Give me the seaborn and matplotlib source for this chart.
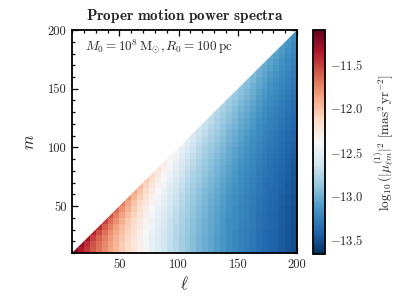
import numpy as np
import pandas as pd
import matplotlib
matplotlib.use('Agg')
import matplotlib.pyplot as plt
from matplotlib.patches import Polygon
import seaborn as sns

# Bins of width 5 covering 10..200 in both ell and m
ell_centres = [12.5 + 5 * k for k in range(38)]
m_centres = ell_centres

# log10 power, one list per ell column, from the lowest m bin up to m=ell
power_cols = [
    [-11.20],
    [-11.36, -11.26],
    [-11.48, -11.44, -11.32],
    [-11.59, -11.57, -11.50, -11.39],
    [-11.69, -11.67, -11.63, -11.55, -11.45],
    [-11.78, -11.77, -11.74, -11.68, -11.61, -11.51],
    [-11.87, -11.86, -11.84, -11.80, -11.74, -11.67, -11.58],
    [-11.96, -11.95, -11.94, -11.90, -11.86, -11.80, -11.73, -11.65],
    [-12.05, -12.05, -12.03, -12.00, -11.97, -11.92, -11.86, -11.80, -11.72],
    [-12.14, -12.14, -12.12, -12.10, -12.07, -12.04, -11.99, -11.93, -11.87, -11.80],
    [-12.23, -12.23, -12.22, -12.20, -12.17, -12.14, -12.10, -12.06, -12.01, -11.95, -11.88],
    [-12.32, -12.32, -12.31, -12.29, -12.27, -12.25, -12.21, -12.17, -12.13, -12.08, -12.02, -11.96],
    [-12.41, -12.41, -12.40, -12.39, -12.37, -12.35, -12.32, -12.29, -12.25, -12.21, -12.16, -12.11,
     -12.05],
    [-12.49, -12.49, -12.48, -12.47, -12.46, -12.44, -12.41, -12.39, -12.35, -12.32, -12.28, -12.23,
     -12.18, -12.13],
    [-12.56, -12.56, -12.55, -12.54, -12.53, -12.51, -12.49, -12.47, -12.44, -12.41, -12.38, -12.34,
     -12.30, -12.25, -12.20],
    [-12.63, -12.63, -12.62, -12.62, -12.60, -12.59, -12.57, -12.55, -12.53, -12.50, -12.47, -12.44,
     -12.40, -12.36, -12.32, -12.27],
    [-12.70, -12.70, -12.69, -12.69, -12.68, -12.67, -12.65, -12.63, -12.61, -12.59, -12.56, -12.53,
     -12.50, -12.46, -12.42, -12.38, -12.34],
    [-12.76, -12.76, -12.76, -12.75, -12.74, -12.73, -12.72, -12.70, -12.68, -12.66, -12.64, -12.61,
     -12.58, -12.55, -12.52, -12.48, -12.44, -12.40],
    [-12.82, -12.82, -12.82, -12.81, -12.80, -12.79, -12.78, -12.77, -12.75, -12.73, -12.71, -12.69,
     -12.66, -12.63, -12.60, -12.57, -12.54, -12.50, -12.46],
    [-12.88, -12.88, -12.88, -12.87, -12.86, -12.86, -12.84, -12.83, -12.82, -12.80, -12.78, -12.76,
     -12.74, -12.71, -12.69, -12.66, -12.63, -12.59, -12.56, -12.52],
    [-12.93, -12.93, -12.93, -12.92, -12.92, -12.91, -12.90, -12.89, -12.87, -12.86, -12.84, -12.82,
     -12.80, -12.78, -12.75, -12.73, -12.70, -12.67, -12.64, -12.61, -12.57],
    [-12.98, -12.98, -12.98, -12.97, -12.97, -12.96, -12.95, -12.94, -12.93, -12.91, -12.90, -12.88,
     -12.86, -12.84, -12.82, -12.80, -12.77, -12.74, -12.72, -12.69, -12.65, -12.62],
    [-13.02, -13.02, -13.02, -13.01, -13.01, -13.00, -12.99, -12.98, -12.97, -12.96, -12.95, -12.93,
     -12.91, -12.89, -12.87, -12.85, -12.83, -12.81, -12.78, -12.75, -12.72, -12.69, -12.66],
    [-13.06, -13.06, -13.06, -13.05, -13.05, -13.04, -13.04, -13.03, -13.02, -13.01, -12.99, -12.98,
     -12.96, -12.95, -12.93, -12.91, -12.89, -12.86, -12.84, -12.81, -12.79, -12.76, -12.73, -12.70],
    [-13.10, -13.10, -13.10, -13.09, -13.09, -13.08, -13.08, -13.07, -13.06, -13.05, -13.04, -13.02,
     -13.01, -12.99, -12.98, -12.96, -12.94, -12.92, -12.90, -12.87, -12.85, -12.82, -12.80, -12.77,
     -12.74],
    [-13.14, -13.14, -13.14, -13.13, -13.13, -13.13, -13.12, -13.11, -13.10, -13.09, -13.08, -13.07,
     -13.06, -13.04, -13.03, -13.01, -12.99, -12.97, -12.95, -12.93, -12.91, -12.89, -12.86, -12.84,
     -12.81, -12.78],
    [-13.18, -13.18, -13.18, -13.18, -13.17, -13.17, -13.16, -13.15, -13.15, -13.14, -13.13, -13.12,
     -13.10, -13.09, -13.08, -13.06, -13.04, -13.03, -13.01, -12.99, -12.97, -12.95, -12.92, -12.90,
     -12.87, -12.85, -12.82],
    [-13.21, -13.21, -13.21, -13.21, -13.20, -13.20, -13.19, -13.19, -13.18, -13.17, -13.16, -13.15,
     -13.14, -13.13, -13.11, -13.10, -13.08, -13.07, -13.05, -13.03, -13.01, -12.99, -12.97, -12.95,
     -12.93, -12.90, -12.88, -12.85],
    [-13.25, -13.25, -13.25, -13.25, -13.24, -13.24, -13.23, -13.23, -13.22, -13.21, -13.20, -13.19,
     -13.18, -13.17, -13.16, -13.15, -13.13, -13.12, -13.10, -13.08, -13.07, -13.05, -13.03, -13.01,
     -12.99, -12.96, -12.94, -12.92, -12.89],
    [-13.28, -13.28, -13.28, -13.28, -13.27, -13.27, -13.26, -13.26, -13.25, -13.25, -13.24, -13.23,
     -13.22, -13.21, -13.20, -13.18, -13.17, -13.16, -13.14, -13.13, -13.11, -13.09, -13.07, -13.05,
     -13.03, -13.01, -12.99, -12.97, -12.94, -12.92],
    [-13.31, -13.31, -13.31, -13.31, -13.30, -13.30, -13.30, -13.29, -13.28, -13.28, -13.27, -13.26,
     -13.25, -13.24, -13.23, -13.22, -13.21, -13.19, -13.18, -13.17, -13.15, -13.13, -13.12, -13.10,
     -13.08, -13.06, -13.04, -13.02, -13.00, -12.97, -12.95],
    [-13.35, -13.35, -13.35, -13.35, -13.34, -13.34, -13.34, -13.33, -13.33, -13.32, -13.31, -13.31,
     -13.30, -13.29, -13.28, -13.27, -13.25, -13.24, -13.23, -13.22, -13.20, -13.19, -13.17, -13.15,
     -13.13, -13.12, -13.10, -13.08, -13.06, -13.04, -13.01, -12.99],
    [-13.38, -13.38, -13.38, -13.38, -13.37, -13.37, -13.37, -13.36, -13.36, -13.35, -13.34, -13.34,
     -13.33, -13.32, -13.31, -13.30, -13.29, -13.28, -13.27, -13.25, -13.24, -13.23, -13.21, -13.19,
     -13.18, -13.16, -13.14, -13.12, -13.10, -13.08, -13.06, -13.04, -13.02],
    [-13.41, -13.41, -13.41, -13.41, -13.40, -13.40, -13.40, -13.39, -13.39, -13.38, -13.38, -13.37,
     -13.36, -13.35, -13.35, -13.34, -13.33, -13.31, -13.30, -13.29, -13.28, -13.26, -13.25, -13.24,
     -13.22, -13.20, -13.19, -13.17, -13.15, -13.13, -13.11, -13.09, -13.07, -13.05],
    [-13.43, -13.43, -13.43, -13.43, -13.42, -13.42, -13.42, -13.41, -13.41, -13.40, -13.40, -13.39,
     -13.39, -13.38, -13.37, -13.36, -13.35, -13.34, -13.33, -13.32, -13.31, -13.29, -13.28, -13.27,
     -13.25, -13.24, -13.22, -13.20, -13.19, -13.17, -13.15, -13.13, -13.11, -13.09, -13.07],
    [-13.46, -13.46, -13.46, -13.46, -13.46, -13.45, -13.45, -13.45, -13.44, -13.44, -13.43, -13.42,
     -13.42, -13.41, -13.40, -13.39, -13.38, -13.37, -13.36, -13.35, -13.34, -13.33, -13.32, -13.30,
     -13.29, -13.28, -13.26, -13.25, -13.23, -13.21, -13.20, -13.18, -13.16, -13.14, -13.12, -13.10],
    [-13.49, -13.49, -13.49, -13.49, -13.49, -13.48, -13.48, -13.48, -13.47, -13.47, -13.46, -13.46,
     -13.45, -13.44, -13.44, -13.43, -13.42, -13.41, -13.40, -13.39, -13.38, -13.37, -13.36, -13.35,
     -13.33, -13.32, -13.30, -13.29, -13.27, -13.26, -13.24, -13.22, -13.21, -13.19, -13.17, -13.15,
     -13.13],
    [-13.52, -13.52, -13.52, -13.52, -13.52, -13.51, -13.51, -13.51, -13.50, -13.50, -13.49, -13.49,
     -13.48, -13.48, -13.47, -13.46, -13.45, -13.44, -13.43, -13.42, -13.41, -13.40, -13.39, -13.38,
     -13.37, -13.36, -13.34, -13.33, -13.31, -13.30, -13.28, -13.27, -13.25, -13.23, -13.22, -13.20,
     -13.18, -13.16],
]

tick_values = [50, 100, 150, 200]
minor_values = list(range(10, 201, 10))
cbar_ticks = [-11.5, -12.0, -12.5, -13.0, -13.5]
vmin, vmax = -13.66, -11.11

# Build the table (m rows x ell columns), empty above the diagonal
n = len(ell_centres)
grid = np.full((n, n), np.nan)
for i, col in enumerate(power_cols):
    grid[:len(col), i] = col[:n]
df = pd.DataFrame(grid, index=m_centres, columns=ell_centres)

sns.set_style('ticks')
plt.rcParams['font.family'] = 'serif'
plt.rcParams['font.serif'] = ['cmr10']
plt.rcParams['mathtext.fontset'] = 'cm'
plt.rcParams['axes.formatter.use_mathtext'] = True

fig = plt.figure(figsize=(4.07, 3.05), dpi=100)
ax = fig.add_axes([0.177, 0.1705, 0.553, 0.731])
cax = fig.add_axes([0.768, 0.167, 0.031, 0.735])

sns.heatmap(df, ax=ax, cbar_ax=cax, cmap='RdBu_r', vmin=vmin, vmax=vmax,
            xticklabels=False, yticklabels=False)
ax.set_ylim(0, n)
ax.set_xlim(0, n)

# only m <= ell exists: trim the diagonal cells to the triangle
mesh = ax.collections[0]
mesh.set_clip_path(Polygon([(0, 0), (n, 0), (n, n)], transform=ax.transData))


def pos(v):
    # value on the ell/m scale -> heatmap cell coordinate
    return (v - 10) / 5


for s in ax.spines.values():
    s.set_visible(True)
    s.set_linewidth(1.3)
    s.set_color('black')

ax.set_xticks([pos(v) for v in tick_values])
ax.set_xticklabels([str(v) for v in tick_values], fontsize=9)
ax.set_yticks([pos(v) for v in tick_values])
ax.set_yticklabels([str(v) for v in tick_values], fontsize=9, rotation=0)
ax.set_xticks([pos(v) for v in minor_values], minor=True)
ax.set_yticks([pos(v) for v in minor_values], minor=True)
ax.tick_params(which='both', direction='in', top=True, right=True, color='black', width=0.9)
ax.tick_params(which='major', length=4.5, pad=4)
ax.tick_params(which='minor', length=2.5)

ax.set_xlabel(r'$\ell$', fontsize=12, labelpad=3)
ax.set_ylabel(r'$m$', fontsize=12, labelpad=8)
ax.set_title(r'$\mathbf{Proper\ motion\ power\ spectra}$', fontsize=11, pad=7)
ax.text(0.058, 0.924, r'$M_0=10^8\,\mathrm{M}_{\odot}, R_0=100\,\mathrm{pc}$',
        transform=ax.transAxes, fontsize=9.5, ha='left', va='center')

cb = mesh.colorbar
cb.outline.set_visible(True)
cb.outline.set_linewidth(1.3)
cb.outline.set_edgecolor('black')
cb.set_ticks(cbar_ticks)
cb.set_ticklabels([r'$%.1f$' % t for t in cbar_ticks])
cb.ax.set_yticks(np.arange(-13.6, -11.15, 0.1), minor=True)
cb.ax.tick_params(which='both', direction='in', color='black', labelsize=9)
cb.ax.tick_params(which='major', length=4.5, width=0.9)
cb.ax.tick_params(which='minor', length=2.5, width=0.8)
cb.set_label(r'$\log_{10}(|\mu^{(1)}_{\ell m}|^2\ [\mathrm{mas}^2\,\mathrm{yr}^{-2}]$', fontsize=9.5, labelpad=6)

fig.savefig('out.png', dpi=100, facecolor='white')
